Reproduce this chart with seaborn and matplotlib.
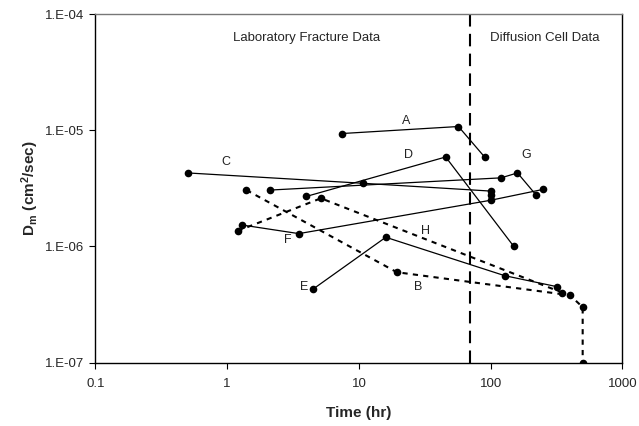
import numpy as np
import pandas as pd
import matplotlib
matplotlib.use('Agg')
import matplotlib.pyplot as plt
import seaborn as sns

# Series (time in hr, Dm in cm^2/sec)
a_time = [7.5, 57, 90]
a_dm = [9.4e-6, 1.08e-5, 5.9e-6]

b_time = [1.4, 19.4, 400, 500, 500]
b_dm = [3.06e-6, 6.0e-7, 3.8e-7, 3.0e-7, 1.0e-7]

c_time = [0.5, 10.8, 100, 100]
c_dm = [4.3e-6, 3.5e-6, 3.0e-6, 2.75e-6]

d_time = [4.0, 45.6, 150]
d_dm = [2.7e-6, 5.9e-6, 1.0e-6]

e_time = [4.5, 16, 128, 320]
e_dm = [4.3e-7, 1.2e-6, 5.6e-7, 4.5e-7]

f_time = [1.3, 3.5, 100, 250]
f_dm = [1.53e-6, 1.29e-6, 2.5e-6, 3.1e-6]

g_time = [2.1, 120, 160, 220]
g_dm = [3.06e-6, 3.9e-6, 4.3e-6, 2.8e-6]

h_time = [1.2, 5.15, 350]
h_dm = [1.36e-6, 2.6e-6, 4.0e-7]

series = {
    'A': (a_time, a_dm, 'solid'),
    'B': (b_time, b_dm, 'dashed'),
    'C': (c_time, c_dm, 'solid'),
    'D': (d_time, d_dm, 'solid'),
    'E': (e_time, e_dm, 'solid'),
    'F': (f_time, f_dm, 'solid'),
    'G': (g_time, g_dm, 'solid'),
    'H': (h_time, h_dm, 'dashed'),
}

# where the series letters sit
label_names = ['A', 'B', 'C', 'D', 'E', 'F', 'G', 'H']
label_x = [22.8, 28.3, 0.97, 23.7, 3.83, 2.88, 185, 32.1]
label_y = [1.21e-5, 4.5e-7, 5.34e-6, 6.14e-6, 4.5e-7, 1.14e-6, 6.14e-6, 1.37e-6]

divider_time = 70
x_ticks = [0.1, 1, 10, 100, 1000]
x_tick_labels = ['0.1', '1', '10', '100', '1000']
y_ticks = [1e-7, 1e-6, 1e-5, 1e-4]
y_tick_labels = ['1.E-07', '1.E-06', '1.E-05', '1.E-04']

sns.set_style('white')
plt.rcParams['font.family'] = ['Liberation Sans', 'DejaVu Sans']
plt.rcParams['mathtext.fontset'] = 'custom'
plt.rcParams['mathtext.rm'] = 'Liberation Sans'
plt.rcParams['mathtext.bf'] = 'Liberation Sans:bold'

fig = plt.figure(figsize=(6.39, 4.26), dpi=100)
ax = fig.add_axes([0.1494, 0.149, 0.8245, 0.8174])

for name, (t, dm, style) in series.items():
    df = pd.DataFrame({'time': t, 'dm': dm})
    if style == 'solid':
        kw = dict(linewidth=0.9)
    else:
        kw = dict(linewidth=1.5)
    sns.lineplot(data=df, x='time', y='dm', ax=ax, sort=False, estimator=None,
                 color='black', marker='o', markersize=5.5, markeredgewidth=0,
                 **kw)
    if style == 'dashed':
        ax.lines[-1].set_dashes((2.5, 2.5))

ax.axvline(divider_time, color='black', linewidth=1.5, dashes=(6, 3.5))

for name, lx, ly in zip(label_names, label_x, label_y):
    ax.text(lx, ly, name, ha='center', va='center', fontsize=9, color='#222222')

ax.text(4.04, 6.25e-5, 'Laboratory Fracture Data', ha='center', va='center', fontsize=9.5)
ax.text(259, 6.25e-5, 'Diffusion Cell Data', ha='center', va='center', fontsize=9.5)

ax.set_xscale('log')
ax.set_yscale('log')
ax.set_xlim(0.1, 1000)
ax.set_ylim(1e-7, 1e-4)
ax.set_xticks(x_ticks)
ax.set_xticklabels(x_tick_labels)
ax.set_yticks(y_ticks)
ax.set_yticklabels(y_tick_labels)
ax.minorticks_off()
ax.tick_params(axis='both', which='major', direction='out', length=4, width=0.8,
               color='black', labelsize=9.5, bottom=True, left=True)
ax.tick_params(axis='x', pad=7)
ax.tick_params(axis='y', pad=4)

for side in ['left', 'bottom', 'right']:
    ax.spines[side].set_color('black')
    ax.spines[side].set_linewidth(1.0)
ax.spines['top'].set_color('#777777')
ax.spines['top'].set_linewidth(1.0)

ax.set_xlabel('Time (hr)', fontsize=11, fontweight='bold', labelpad=12)
ax.set_ylabel(r'$\mathbf{D_m\ (cm^2/sec)}$', fontsize=11, labelpad=3)

fig.savefig('out.png', dpi=100)
